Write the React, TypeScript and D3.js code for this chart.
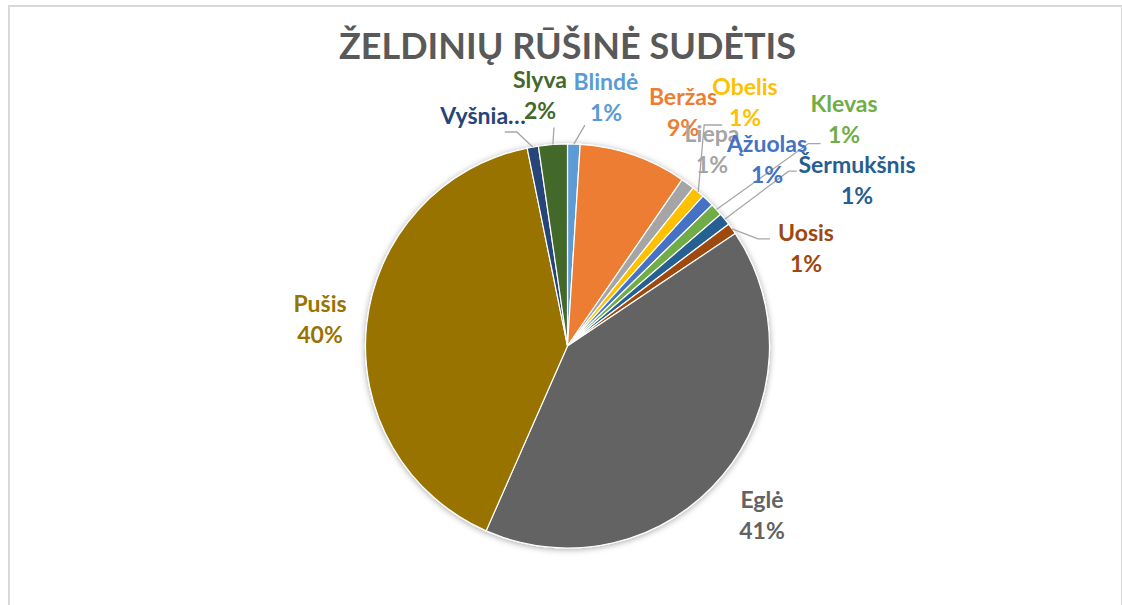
import React from 'react';
import * as d3 from 'd3';

// chart data
const title = 'ŽELDINIŲ RŪŠINĖ SUDĖTIS';
const categories = [
  'Blindė', 'Beržas', 'Liepa', 'Obelis', 'Ąžuolas', 'Klevas',
  'Šermukšnis', 'Uosis', 'Eglė', 'Pušis', 'Vyšnia', 'Slyva',
];
const shares = [1.0, 8.6, 1.1, 1.0, 1.0, 1.0, 1.0, 0.9, 41.0, 40.2, 0.9, 2.3];
const colors = [
  '#5B9BD5', '#ED7D31', '#A5A5A5', '#FFC000', '#4472C4', '#70AD47',
  '#255E91', '#9E480E', '#636363', '#997300', '#264478', '#43682B',
];

// label placement (offsets from pie centre) and leader elbows (offsets from slice edge)
type LabelPlace = { dx: number; dy: number; leader?: [number, number, number]; short?: string };
const labelPlaces: Record<string, LabelPlace> = {
  'Blindė': { dx: 38.5, dy: -256, leader: [11, -19, 0] },
  'Beržas': { dx: 115.5, dy: -241 },
  'Liepa': { dx: 144.5, dy: -204 },
  'Obelis': { dx: 177.5, dy: -251, leader: [6, -67, 18] },
  'Ąžuolas': { dx: 199.5, dy: -194 },
  'Klevas': { dx: 276.5, dy: -234, leader: [92, -66, 12] },
  'Šermukšnis': { dx: 289.5, dy: -173, leader: [64, -48, 8] },
  'Uosis': { dx: 238.5, dy: -105, leader: [26, 10, 12] },
  'Eglė': { dx: 194.5, dy: 162 },
  'Pušis': { dx: -247.5, dy: -34 },
  'Vyšnia': { dx: -84.5, dy: -222, leader: [-16, -15, -12], short: 'Vyšnia…' },
  'Slyva': { dx: -27.5, dy: -258, leader: [1, -17, 0] },
};

const W = 1122;
const H = 605;
const cx = 567.5;
const cy = 346;
const R = 202;
const FONT = 'Lato, "Open Sans", sans-serif';

export default function App() {
  const total = d3.sum(shares);
  const pct = d3.format('.0%');
  const arcs = d3.pie<number>().sort(null).value((d) => d)(shares);
  const arcGen = d3.arc<d3.PieArcDatum<number>>().innerRadius(0).outerRadius(R);

  return (
    <svg
      width={W}
      height={H}
      style={{ position: 'absolute', left: 0, top: 0, display: 'block', background: '#fff' }}
    >
      <defs>
        <filter id="pieShadow" x="-20%" y="-20%" width="140%" height="140%">
          <feDropShadow dx="0" dy="1" stdDeviation="3" floodColor="#000" floodOpacity="0.35" />
        </filter>
      </defs>
      <rect x={9} y={6} width={W - 9} height={H} fill="#fff" stroke="#d9d9d9" strokeWidth={2} />

      <text
        x={cx}
        y={59}
        textAnchor="middle"
        fontFamily={FONT}
        fontWeight={700}
        fontSize={36}
        fill="#595959"
      >
        {title}
      </text>

      <g transform={`translate(${cx},${cy})`}>
        <g filter="url(#pieShadow)">
          {arcs.map((a, i) => (
            <path key={categories[i]} d={arcGen(a) ?? ''} fill={colors[i]} stroke="#fff" strokeWidth={1.2} />
          ))}
        </g>

        {arcs.map((a, i) => {
          const place = labelPlaces[categories[i]];
          if (!place.leader) return null;
          const mid = (a.startAngle + a.endAngle) / 2;
          const sx = R * Math.sin(mid);
          const sy = -R * Math.cos(mid);
          const [ex, ey, h] = place.leader;
          const pts: [number, number][] = [
            [sx, sy],
            [sx + ex, sy + ey],
            [sx + ex + h, sy + ey],
          ];
          return (
            <path
              key={'l' + categories[i]}
              d={d3.line()(pts) ?? ''}
              fill="none"
              stroke="#a6a6a6"
              strokeWidth={1.3}
            />
          );
        })}

        {arcs.map((a, i) => {
          const place = labelPlaces[categories[i]];
          return (
            <text
              key={'t' + categories[i]}
              x={place.dx}
              y={place.dy}
              textAnchor="middle"
              fontFamily={FONT}
              fontWeight={700}
              fontSize={23}
              fill={colors[i]}
            >
              {place.short ? (
                place.short
              ) : (
                <>
                  <tspan x={place.dx}>{categories[i]}</tspan>
                  <tspan x={place.dx} dy={31}>
                    {pct(a.data / total)}
                  </tspan>
                </>
              )}
            </text>
          );
        })}
      </g>
    </svg>
  );
}
